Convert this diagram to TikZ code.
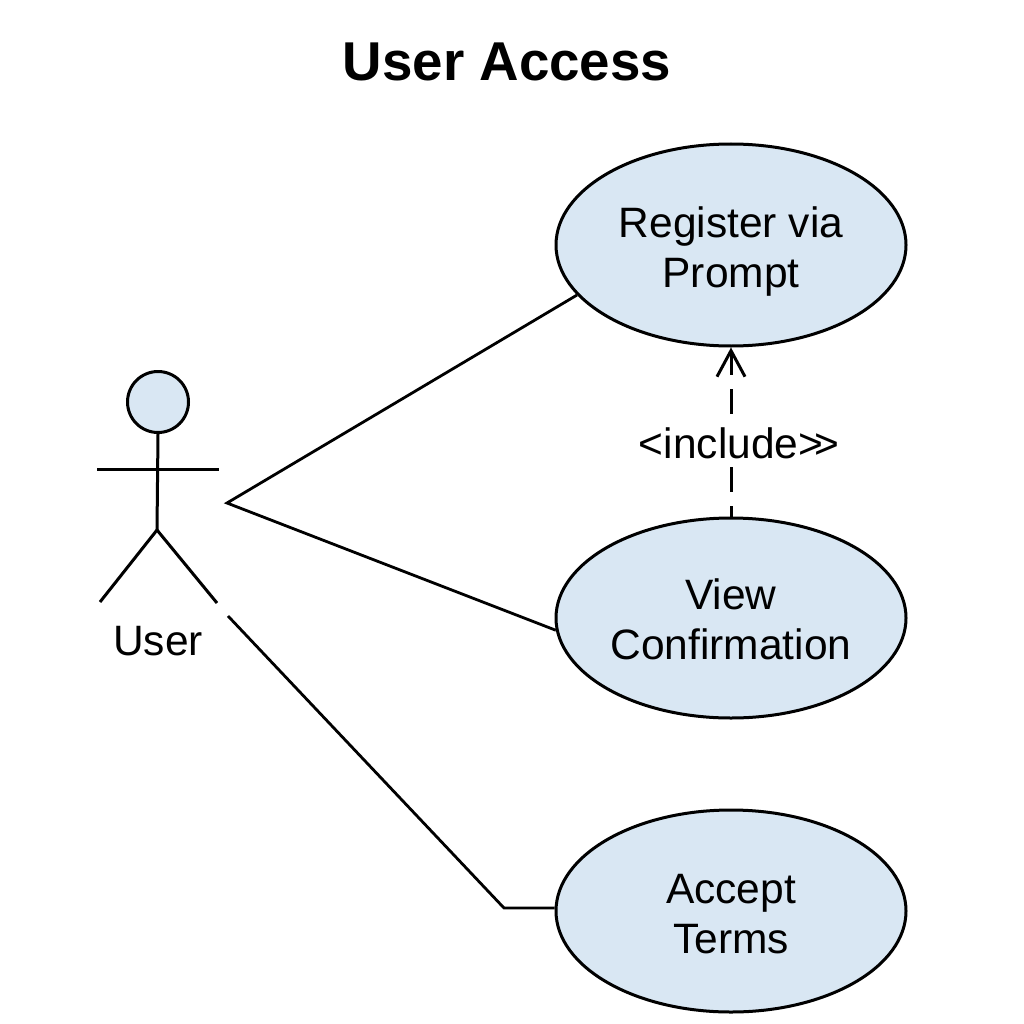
\documentclass[tikz,border=0pt]{standalone}
\usepackage{fontspec}
\setmainfont{Liberation Sans}
\usetikzlibrary{shapes.geometric,arrows.meta}
\definecolor{ucfill}{HTML}{D9E7F3}
\newcommand{\topshim}[1]{\rule{0pt}{#1}}
\tikzset{
  usecase/.style={ellipse,draw=black,line width=3pt,fill=ucfill,minimum width=350pt,minimum height=202pt,inner sep=0pt,align=center,font=\fontsize{42.5}{50}\selectfont},
  stick/.style={draw=black,line width=3pt},
  assoc/.style={draw=black,line width=2.8pt},
  incl/.style={draw=black,line width=3pt,dash pattern=on 25pt off 14pt,dash phase=14pt,-{Straight Barb[length=26pt,width=28pt,line width=3pt]}},
  lbl/.style={inner sep=0pt,font=\fontsize{42.5}{50}\selectfont}
}
\begin{document}
\begin{tikzpicture}[x=1pt,y=-1pt]
\useasboundingbox (0,0) rectangle (1024,1024);
\fill[white] (0,0) rectangle (1024,1024);
\node[inner sep=0pt,font=\fontsize{54.7}{60}\selectfont\bfseries] (title) at (507,62) {User Access};
\node[usecase] (reg) at (731,245) {\topshim{43pt}Register via\\Prompt};
\node[usecase,minimum height=200pt] (view) at (731,618) {\topshim{33pt}View\\Confirmation};
\node[usecase] (acc) at (731,911) {\topshim{35pt}Accept\\Terms};
% actor
\node[circle,draw=black,line width=3pt,fill=ucfill,minimum size=61pt,inner sep=0pt] (head) at (158,402) {};
\coordinate (hip) at (157,530);
\coordinate (armL) at (97,469);
\coordinate (armR) at (219,469);
\coordinate (footL) at (100,602);
\coordinate (footR) at (217,603);
\draw[stick] (head.south) -- (hip);
\draw[stick] (armL) -- (armR);
\draw[stick] (footL) -- (hip) -- (footR);
\node[lbl] (user) at (158,641) {User};
% associations
\coordinate (apex) at (227,503);
\coordinate (start) at (228,616);
\coordinate (bend) at (504,908);
\draw[assoc] (reg.198.7) -- (apex) -- (view.184.6);
\draw[assoc] (start) -- (bend) -- (acc.west |- bend);
% include
\draw[incl] (view.north) -- (reg.south);
\node[inner sep=0pt,fill=white,font=\fontsize{42.5}{50}\selectfont] (inc) at (739,443) {<include>\kern-9pt>};
\end{tikzpicture}
\end{document}
